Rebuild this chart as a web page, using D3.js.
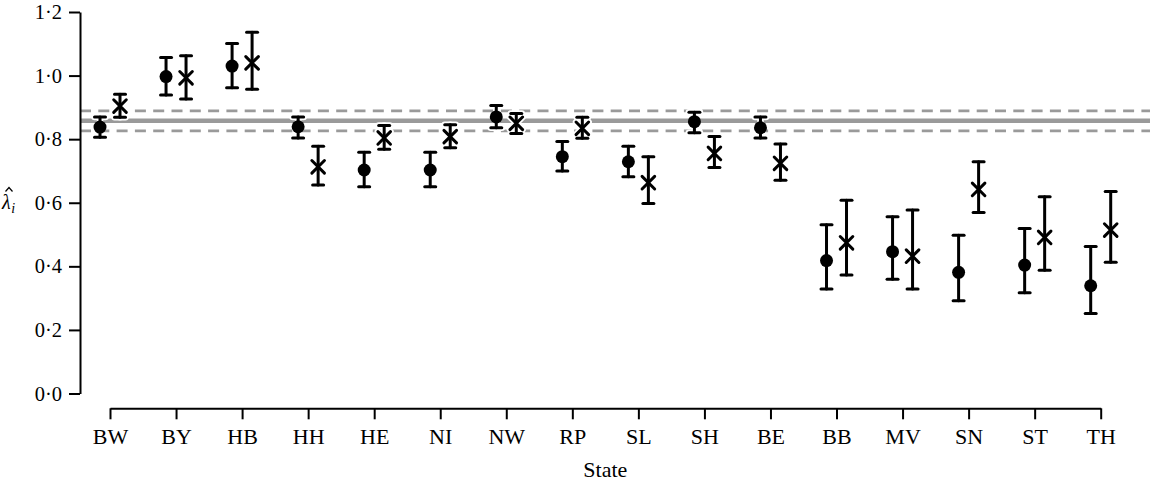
<!DOCTYPE html>
<html>
<head>
<meta charset="utf-8">
<script src="https://cdn.jsdelivr.net/npm/d3@7"></script>
<style>
  html, body { margin: 0; padding: 0; background: #fff; }
  svg { display: block; }
  text { font-family: "Liberation Serif", "Times New Roman", serif; fill: #000; }
</style>
</head>
<body>
<svg id="chart" width="1150" height="483"></svg>
<script>
const states = ["BW","BY","HB","HH","HE","NI","NW","RP","SL","SH","BE","BB","MV","SN","ST","TH"];
// Series 1 (filled circles)
const est1 = [0.838, 0.997, 1.030, 0.839, 0.703, 0.703, 0.870, 0.745, 0.729, 0.855, 0.836, 0.418, 0.446, 0.381, 0.404, 0.339];
const lo1  = [0.806, 0.939, 0.962, 0.804, 0.650, 0.650, 0.836, 0.700, 0.682, 0.820, 0.804, 0.329, 0.359, 0.292, 0.317, 0.252];
const hi1  = [0.870, 1.057, 1.101, 0.870, 0.759, 0.759, 0.906, 0.793, 0.778, 0.885, 0.870, 0.531, 0.556, 0.498, 0.519, 0.462];
// Series 2 (crosses)
const est2 = [0.904, 0.993, 1.040, 0.713, 0.804, 0.808, 0.850, 0.834, 0.663, 0.755, 0.724, 0.474, 0.432, 0.642, 0.491, 0.514];
const lo2  = [0.869, 0.926, 0.957, 0.656, 0.768, 0.773, 0.818, 0.803, 0.598, 0.711, 0.671, 0.373, 0.329, 0.569, 0.388, 0.413];
const hi2  = [0.941, 1.062, 1.136, 0.778, 0.843, 0.845, 0.881, 0.869, 0.745, 0.808, 0.785, 0.608, 0.577, 0.729, 0.619, 0.635];
// Overall estimate with interval
const overall = [0.858];
const overallCI = [0.826, 0.889];
const yTicks = [0, 0.2, 0.4, 0.6, 0.8, 1.0, 1.2];

const svg = d3.select("#chart");
const x = d3.scalePoint().domain(states).range([110, 1100.7]).padding(0);
const y = d3.scaleLinear().domain([0, 1.2]).range([393.5, 12]);
const off = 10;

// Reference lines
const refG = svg.append("g");
refG.selectAll("line.ci").data(overallCI).join("line")
  .attr("x1", 80).attr("x2", 1150)
  .attr("y1", d => y(d)).attr("y2", d => y(d))
  .attr("stroke", "#9a9a9a").attr("stroke-width", 2.6)
  .attr("stroke-dasharray", "11,7.3");
refG.selectAll("line.est").data(overall).join("line")
  .attr("x1", 80).attr("x2", 1150)
  .attr("y1", d => y(d)).attr("y2", d => y(d))
  .attr("stroke", "#9a9a9a").attr("stroke-width", 4.5);

// Axes
const yAxis = d3.axisLeft(y).tickValues(yTicks).tickSize(11).tickSizeOuter(0).tickPadding(7)
  .tickFormat(d => d3.format(".1f")(d).replace(".", "·"));
const gy = svg.append("g").attr("transform", "translate(80,0)").call(yAxis);
gy.attr("font-family", null).attr("font-size", null);
gy.select(".domain").attr("stroke", "#000").attr("stroke-width", 2);
gy.selectAll(".tick line").attr("stroke", "#000").attr("stroke-width", 2);
gy.selectAll(".tick text").attr("font-size", 20.5).attr("font-family", "Liberation Serif");

const xAxis = d3.axisBottom(x).tickSize(11).tickSizeOuter(0).tickPadding(9);
const gx = svg.append("g").attr("transform", "translate(0,408.3)").call(xAxis);
gx.attr("font-family", null).attr("font-size", null);
gx.select(".domain").attr("stroke", "#000").attr("stroke-width", 2);
gx.selectAll(".tick line").attr("stroke", "#000").attr("stroke-width", 2);
gx.selectAll(".tick text").attr("font-size", 22).attr("font-family", "Liberation Serif");

// Axis titles
svg.append("text").attr("x", 605.3).attr("y", 477).attr("text-anchor", "middle")
  .attr("font-size", 22).text("State");
const yl = svg.append("text").attr("x", 2).attr("y", 209).attr("font-size", 20);
yl.append("tspan").attr("font-style", "italic").text("λ");
yl.append("tspan").attr("dx", 0.5).attr("dy", 4).attr("font-size", 14).attr("font-style", "italic").text("i");
// circumflex accent over lambda
svg.append("path").attr("d", "M5.5,191.5L9,187.5L12.5,191.5")
  .attr("fill", "none").attr("stroke", "#000").attr("stroke-width", 1.2);

// Error bars + markers
function drawSeries(est, lo, hi, dx, kind) {
  const g = svg.append("g");
  const idx = d3.range(states.length);
  const cap = 5.5;
  [["#fff", 6.5], ["#000", 3]].forEach(([col, w]) => {
    const gg = g.append("g").attr("stroke", col).attr("stroke-width", w).attr("stroke-linecap", "round");
    gg.selectAll("line.v").data(idx).join("line")
      .attr("x1", i => x(states[i]) + dx).attr("x2", i => x(states[i]) + dx)
      .attr("y1", i => y(lo[i])).attr("y2", i => y(hi[i]));
    gg.selectAll("line.t").data(idx).join("line").attr("class", "t")
      .attr("x1", i => x(states[i]) + dx - cap).attr("x2", i => x(states[i]) + dx + cap)
      .attr("y1", i => y(hi[i])).attr("y2", i => y(hi[i]));
    gg.selectAll("line.b").data(idx).join("line").attr("class", "b")
      .attr("x1", i => x(states[i]) + dx - cap).attr("x2", i => x(states[i]) + dx + cap)
      .attr("y1", i => y(lo[i])).attr("y2", i => y(lo[i]));
    if (kind === "x") {
      const s = 6.3;
      gg.selectAll("path.x").data(idx).join("path").attr("class", "x")
        .attr("fill", "none")
        .attr("d", i => {
          const cx = x(states[i]) + dx, cy = y(est[i]);
          return `M${cx - s},${cy - s}L${cx + s},${cy + s}M${cx - s},${cy + s}L${cx + s},${cy - s}`;
        });
    }
  });
  if (kind === "o") {
    g.selectAll("circle").data(idx).join("circle")
      .attr("cx", i => x(states[i]) + dx).attr("cy", i => y(est[i]))
      .attr("r", 6.5).attr("fill", "#000");
  }
}
drawSeries(est1, lo1, hi1, -off, "o");
drawSeries(est2, lo2, hi2, off, "x");
</script>
</body>
</html>
